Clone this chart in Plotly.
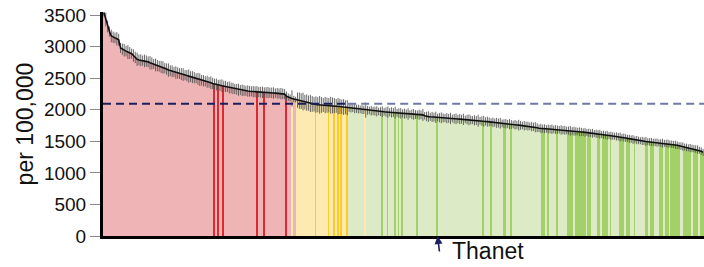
import plotly.graph_objects as go

# Rate per 100,000 for each local authority, sorted high to low
values = [
    3540, 3430, 3320, 3240, 3170, 3150, 3140, 3125, 3110, 2980,
    2960, 2945, 2930, 2915, 2900, 2890, 2860, 2830, 2800, 2790,
    2785, 2780, 2775, 2770, 2760, 2745, 2735, 2725, 2710, 2700,
    2690, 2680, 2672, 2660, 2645, 2630, 2620, 2610, 2600, 2590,
    2582, 2575, 2566, 2558, 2550, 2542, 2534, 2526, 2518, 2510,
    2500, 2490, 2478, 2468, 2460, 2452, 2444, 2436, 2428, 2418,
    2408, 2400, 2394, 2388, 2382, 2376, 2370, 2362, 2354, 2346,
    2338, 2330, 2324, 2318, 2313, 2309, 2305, 2301, 2297, 2294,
    2291, 2288, 2285, 2283, 2281, 2279, 2277, 2275, 2274, 2272,
    2270, 2268, 2266, 2264, 2262, 2259, 2256, 2253, 2249, 2215,
    2200, 2190, 2180, 2170, 2162, 2152, 2145, 2138, 2130, 2122,
    2114, 2106, 2099, 2093, 2088, 2084, 2081, 2079, 2077, 2076,
    2075, 2073, 2072, 2071, 2069, 2066, 2062, 2058, 2053, 2048,
    2044, 2040, 2036, 2032, 2028, 2024, 2020, 2016, 2012, 2008,
    2004, 2000, 1996, 1992, 1989, 1985, 1982, 1979, 1976, 1974,
    1972, 1970, 1968, 1966, 1964, 1961, 1959, 1957, 1954, 1951,
    1948, 1945, 1942, 1939, 1936, 1933, 1931, 1929, 1927, 1925,
    1924, 1922, 1921, 1919, 1905, 1895, 1892, 1889, 1886, 1884,
    1881, 1878, 1875, 1873, 1871, 1869, 1867, 1865, 1863, 1861,
    1859, 1857, 1855, 1853, 1851, 1849, 1847, 1845, 1842, 1839,
    1836, 1833, 1830, 1827, 1824, 1821, 1818, 1815, 1812, 1808,
    1804, 1800, 1796, 1793, 1790, 1787, 1784, 1781, 1778, 1775,
    1772, 1769, 1766, 1763, 1760, 1757, 1754, 1751, 1748, 1745,
    1742, 1739, 1735, 1730, 1724, 1716, 1708, 1704, 1701, 1699,
    1697, 1695, 1693, 1691, 1689, 1687, 1685, 1683, 1680, 1678,
    1676, 1673, 1670, 1667, 1664, 1661, 1658, 1655, 1652, 1649,
    1646, 1643, 1640, 1636, 1632, 1628, 1624, 1620, 1616, 1612,
    1608, 1604, 1600, 1596, 1592, 1588, 1585, 1582, 1578, 1574,
    1569, 1564, 1559, 1553, 1547, 1541, 1535, 1530, 1525, 1520,
    1515, 1511, 1507, 1503, 1499, 1495, 1492, 1489, 1486, 1483,
    1480, 1477, 1474, 1471, 1469, 1466, 1463, 1459, 1455, 1450,
    1444, 1438, 1431, 1424, 1417, 1410, 1404, 1398, 1393, 1388,
    1383, 1378, 1370, 1358, 1345, 1325,
]

# Half-width of the 95% confidence interval for each bar
ci_half = [
    60, 110, 95, 80, 100, 90, 85, 105, 95, 80,
    90, 100, 85, 110, 95, 80, 100, 90, 105, 85,
    95, 80, 100, 90, 85, 105, 95, 80, 100, 90,
    85, 95, 100, 80, 90, 105, 85, 95, 80, 100,
    90, 85, 95, 100, 80, 90, 105, 85, 95, 90,
    80, 95, 100, 85, 90, 80, 95, 85, 100, 90,
    85, 95, 80, 90, 100, 85, 90, 80, 95, 85,
    90, 80, 85, 95, 80, 90, 85, 80, 90, 85,
    80, 90, 85, 95, 80, 85, 90, 80, 85, 90,
    80, 85, 90, 75, 85, 80, 90, 85, 80, 75,
    60, 55, 130, 50, 45, 120, 130, 125, 140, 115,
    130, 120, 135, 125, 115, 130, 120, 140, 125, 110,
    130, 120, 115, 135, 125, 120, 110, 130, 120, 115,
    125, 110, 120, 65, 70, 60, 75, 65, 70, 60,
    70, 65, 120, 70, 60, 75, 65, 70, 80, 60,
    70, 85, 60, 75, 90, 65, 80, 70, 95, 60,
    75, 85, 65, 80, 70, 90, 60, 75, 85, 70,
    65, 80, 70, 95, 60, 75, 85, 65, 80, 70,
    90, 60, 75, 85, 70, 65, 80, 70, 90, 60,
    75, 85, 65, 80, 70, 90, 60, 75, 85, 70,
    65, 80, 70, 95, 60, 75, 85, 65, 80, 70,
    60, 75, 65, 80, 70, 85, 60, 70, 75, 65,
    80, 70, 60, 75, 65, 85, 70, 60, 75, 65,
    70, 60, 75, 65, 80, 70, 60, 75, 65, 70,
    60, 70, 65, 75, 60, 70, 65, 60, 75, 65,
    70, 60, 65, 75, 60, 70, 65, 60, 70, 65,
    60, 70, 55, 65, 60, 70, 55, 65, 60, 70,
    55, 65, 60, 70, 55, 65, 60, 55, 65, 60,
    70, 55, 65, 60, 55, 65, 60, 70, 55, 65,
    60, 55, 65, 60, 70, 55, 60, 65, 55, 60,
    65, 55, 60, 70, 55, 60, 65, 55, 60, 55,
    65, 60, 55, 60, 65, 55, 60, 55, 65, 60,
    55, 60, 65, 55, 60, 55,
]

england_value = 2095

# Significance compared with England: counts in sorted order, plus exceptions
n_higher = 105
n_similar = 28
similar_exceptions = [102, 142]

# Local authorities in the same region (highlighted)
region_members = [
    60, 62, 65, 83, 87, 99,
    115, 122, 125, 127, 129, 132,
    151, 154, 158, 160, 162, 170, 181, 206, 210, 217, 218, 221,
    238, 239, 241, 246, 252, 253, 254, 256, 257, 258, 259,
    260, 261, 263, 264, 268, 269, 271, 272, 273, 275, 280, 281, 282,
    284, 285, 288, 294, 295, 297, 298, 302, 303, 305, 306, 308, 309,
    310, 311, 312, 315, 316, 317, 318, 320, 321, 322, 324, 325,
]

highlight_name = "Thanet"
highlight_index = 181

n = len(values)
sig = []
for i in range(n):
    if i < n_higher:
        s = "higher"
    elif i < n_higher + n_similar:
        s = "similar"
    else:
        s = "lower"
    if i in similar_exceptions:
        s = "similar"
    sig.append(s)

light = {"higher": "#efb4b6", "similar": "#fdeab0", "lower": "#dceac6"}
dark = {"higher": "#dc2a32", "similar": "#ffc926", "lower": "#a4d069"}
member_set = set(region_members)
colors = [dark[s] if i in member_set else light[s] for i, s in enumerate(sig)]

x = list(range(n))

fig = go.Figure()
fig.add_trace(go.Bar(
    x=x, y=values,
    marker=dict(color=colors, line=dict(width=0)),
    error_y=dict(type="data", array=ci_half, visible=True,
                 color="rgba(80,80,80,0.85)", thickness=1, width=0),
    hoverinfo="skip",
))
fig.add_trace(go.Scatter(
    x=x, y=values, mode="lines",
    line=dict(color="#111111", width=1.6),
    hoverinfo="skip",
))

last_not_lower = n_higher + n_similar - 1
fig.add_shape(type="line", xref="x", yref="y",
              x0=-0.5, x1=last_not_lower + 0.5, y0=england_value, y1=england_value,
              line=dict(color="#1c1f5e", width=2, dash="8px,5px"))
fig.add_shape(type="line", xref="x", yref="y",
              x0=last_not_lower + 0.5, x1=n - 0.5, y0=england_value, y1=england_value,
              line=dict(color="#7079a6", width=2, dash="8px,5px"))

fig.add_annotation(x=highlight_index, y=0, xref="x", yref="y",
                   text="", showarrow=True, arrowhead=2, arrowsize=1,
                   arrowwidth=1.6, arrowcolor="#1c1f5e", ax=2, ay=17)
fig.add_annotation(x=highlight_index, y=0, xref="x", yref="y",
                   text=highlight_name, showarrow=False,
                   xanchor="left", yanchor="top", xshift=12, yshift=0,
                   font=dict(family="Liberation Sans, Arial", size=23, color="#111111"))

fig.update_layout(
    width=704, height=267,
    margin=dict(l=103, r=0, t=12, b=31, autoexpand=False),
    paper_bgcolor="white", plot_bgcolor="white",
    showlegend=False, bargap=0.15,
    font=dict(family="Liberation Sans, Arial", color="#111111"),
)
fig.update_xaxes(range=[-0.5, n - 0.5], showticklabels=False, ticks="",
                 showgrid=False, zeroline=False,
                 showline=True, linecolor="#000000", linewidth=3)
fig.update_yaxes(range=[0, 3550], tickvals=[0, 500, 1000, 1500, 2000, 2500, 3000, 3500],
                 ticks="outside", ticklen=10, tickcolor="#8a8a8a", tickwidth=1,
                 tickfont=dict(size=19, color="#111111"),
                 showgrid=False, zeroline=False, automargin=False,
                 showline=True, linecolor="#000000", linewidth=3,
                 title=dict(text="per 100,000", font=dict(size=23, color="#111111"), standoff=4))

fig.write_html("out.html", config={"displayModeBar": False},
               post_script="document.body.style.margin='0';document.body.style.overflow='hidden';")
